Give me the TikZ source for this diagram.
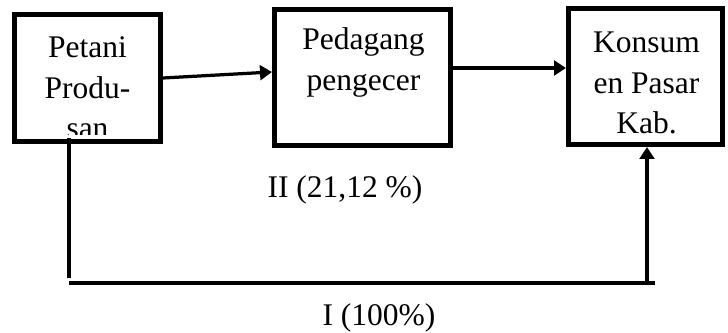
\documentclass[tikz,border=0pt]{standalone}
\usepackage{fontspec}
\setmainfont{Liberation Serif}
\usetikzlibrary{positioning,calc,arrows.meta}

\begin{document}
\begin{tikzpicture}[
  x=0.025cm,y=-0.025cm,
  >={Triangle[length=8.5pt,width=10.5pt]},
  kotak/.style={draw,line width=3.6pt,inner sep=0pt},
  isi/.style={align=center,inner sep=0pt,font=\fontsize{22.4}{28.8}\selectfont},
  ket/.style={inner sep=0pt,font=\fontsize{22.4}{28.8}\selectfont},
  panah/.style={->,line width=2.3pt},
  garis/.style={line width=2.8pt}
]
\useasboundingbox (0,0) rectangle (728,333);

% lembaga pemasaran
\node[kotak,minimum width=3.65cm,minimum height=3.175cm] (petani) at (87.5,78) {};
\node[kotak,minimum width=4.4cm,minimum height=3.4cm] (pedagang) at (362.5,77.5) {};
\node[kotak,minimum width=3.85cm,minimum height=3.4cm] (konsumen) at (645.5,76.5) {};

\begin{scope}
  \clip ($(petani.north west)+(2.5,2.5)$) rectangle ($(petani.south east)+(-2.5,-9.5)$);
  \node[isi,anchor=base] (tpetani) at (87.5,139) {Petani\\Produ-\\san};
\end{scope}
\node[isi,anchor=base] (tpedagang) at (363.5,90.5) {Pedagang\\pengecer};
\begin{scope}
  \clip ($(konsumen.north west)+(2.5,2.5)$) rectangle ($(konsumen.south east)+(-2.5,-12.5)$);
  \node[isi,anchor=base] (tkonsumen) at (646.5,134) {Konsum\\en Pasar\\Kab.};
\end{scope}

% saluran II
\draw[panah] (petani.east) -- ($(pedagang.west)+(0,-5.5)$);
\draw[panah] ($(pedagang.east)+(0,-9.5)$) -- ($(konsumen.west)+(0,-8.5)$);
\node[ket,anchor=base] (dua) at (345,198) {II (21,12 \%)};

% saluran I
\coordinate (kiri) at (69,278);
\coordinate (bawahkiri) at (69,283);
\coordinate (bawahkanan) at (655,283);
\draw[garis] ($(kiri |- petani.south)+(0,-6.5)$) -- (kiri);
\draw[garis] (bawahkiri) -- (bawahkanan);
\draw[panah,line width=2.8pt] ($(konsumen.south |- bawahkanan)+(1.5,0)$) -- ($(konsumen.south)+(1.5,0)$);
\node[ket,anchor=base] (satu) at (379,325) {I (100\%)};
\end{tikzpicture}
\end{document}
